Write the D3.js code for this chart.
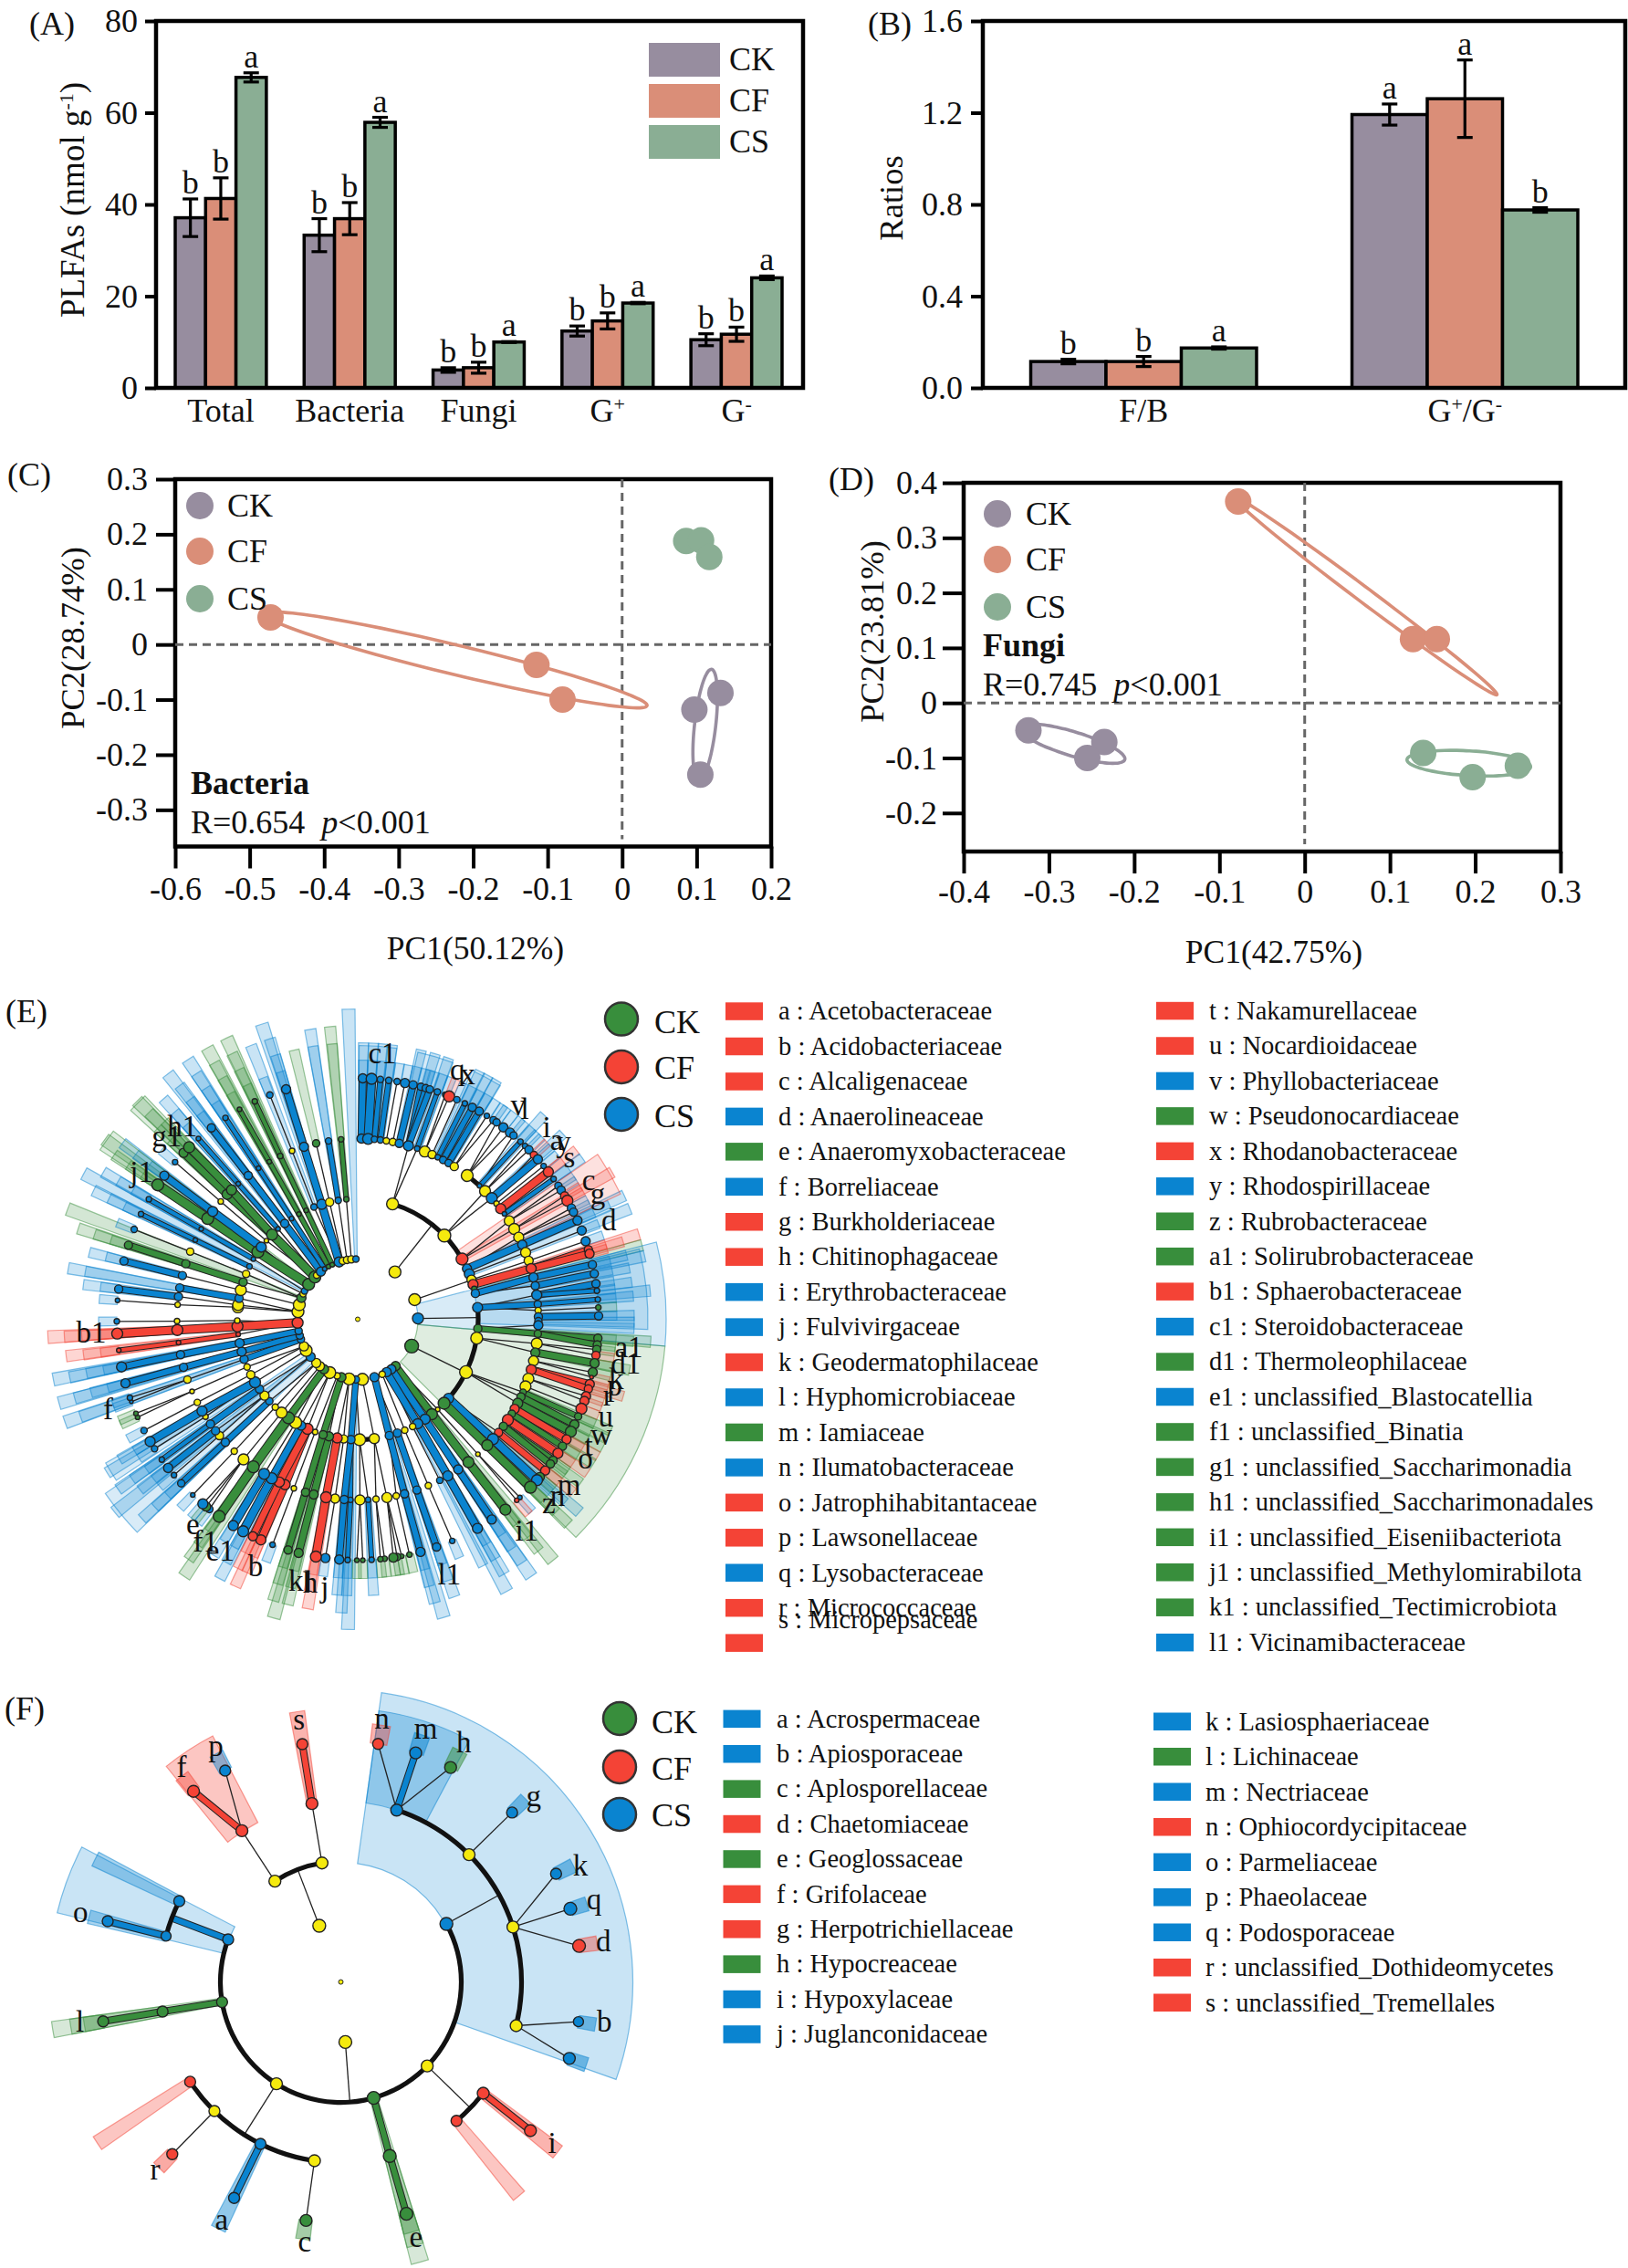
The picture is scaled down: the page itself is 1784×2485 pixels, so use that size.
<!DOCTYPE html>
<html>
<head>
<meta charset="utf-8">
<script src="https://cdn.jsdelivr.net/npm/d3@7/dist/d3.min.js"></script>
<style>
body { margin:0; background:#fff; }
text { font-family:"Liberation Serif", serif; fill:#111; white-space:pre; }
</style>
</head>
<body>
<svg id="fig" width="1784" height="2485"></svg>
<script>
// ---- panel A / B values
var groups = ["CK","CF","CS"];
var plfaCats = ["Total","Bacteria","Fungi","G+","G-"];
var plfaCK = [37.1,33.3,3.9,12.4,10.5];
var plfaCF = [41.3,36.9,4.4,14.6,11.7];
var plfaCS = [67.7,57.9,10.0,18.5,24.0];
var plfaErrCK = [4.1,3.6,0.5,1.1,1.3];
var plfaErrCF = [4.5,3.5,1.2,1.75,1.55];
var plfaErrCS = [1.0,1.1,0.1,0.15,0.4];
var plfaLetCK = ["b","b","b","b","b"];
var plfaLetCF = ["b","b","b","b","b"];
var plfaLetCS = ["a","a","a","a","a"];
var plfaTicks = [0,20,40,60,80];

var ratioCats = ["F/B","G+/G-"];
var ratioCK = [0.115,1.192];
var ratioCF = [0.115,1.261];
var ratioCS = [0.174,0.776];
var ratioErrCK = [0.01,0.046];
var ratioErrCF = [0.022,0.169];
var ratioErrCS = [0.005,0.01];
var ratioLetCK = ["b","a"];
var ratioLetCF = ["b","a"];
var ratioLetCS = ["a","b"];
var ratioTicks = [0,0.4,0.8,1.2,1.6];

// ---- panel C / D values: [x, y]
var bactCK = [[0.132,-0.088],[0.097,-0.118],[0.105,-0.236]];
var bactCF = [[-0.472,0.049],[-0.115,-0.037],[-0.08,-0.1]];
var bactCS = [[0.086,0.188],[0.106,0.189],[0.117,0.159]];
// long axis end points of the ellipses, and minor/major ratio
var bactEllipses = [["CF",-0.479,0.055,0.0335,-0.111,0.075],["CK",0.12,-0.045,0.103,-0.246,0.19]];
var fungiCK = [[-0.324,-0.05],[-0.235,-0.071],[-0.255,-0.1]];
var fungiCF = [[-0.078,0.366],[0.127,0.116],[0.155,0.116]];
var fungiCS = [[0.139,-0.091],[0.25,-0.114],[0.197,-0.135]];
var fungiEllipses = [["CF",-0.083,0.374,0.2255,0.015,0.045],["CK",-0.334,-0.045,-0.211,-0.103,0.22],["CS",0.12,-0.103,0.265,-0.116,0.2]];
var pcaXTicksC = [-0.6,-0.5,-0.4,-0.3,-0.2,-0.1,0,0.1,0.2];
var pcaYTicksC = [-0.3,-0.2,-0.1,0,0.1,0.2,0.3];
var pcaXTicksD = [-0.4,-0.3,-0.2,-0.1,0,0.1,0.2,0.3];
var pcaYTicksD = [-0.2,-0.1,0,0.1,0.2,0.3,0.4];

// ---- panel E cladogram: [angle in degrees, group, node radius], one list per ring
var eL1 = [[141,"k",5],[146,"s",5],[151.3,"s",5],[156,"y",3.5],[163.9,"s",5],[175.5,"y",6.5],[181.8,"s",4],[188.2,"y",6.5],[195.7,"k",5],[200,"y",3.5],[207.7,"y",6.5],[214,"k",5],[218.9,"y",5],[223.5,"y",5],[231.5,"s",5],[238.9,"y",6.5],[243.3,"y",5],[250.6,"s",4],[254.3,"s",4],[258.8,"s",4],[266.7,"f",6],[277.2,"y",6.5],[284,"y",6.5],[290.8,"k",5],[295,"y",3.5],[298,"s",3.5],[305.4,"k",6.5],[314.7,"k",6.5],[317,"y",3.5],[322.3,"s",5],[326.8,"s",2.5],[331,"k",2.5],[335,"k",2.5],[342,"s",5.5],[345.7,"y",4],[349.8,"y",4],[353.9,"y",4],[358.3,"s",3.5]];
var eL1Stems = [[38.2,"y",6.5],[71,"y",6.5],[89.2,"s",6],[116.4,"k",7.5]];
var eL2 = [[16.8,"y",6.5],[46,"y",7],[60,"f",6.5],[65.1,"s",5],[67.9,"s",5.5],[70.8,"y",5],[73.2,"f",5.5],[75.4,"k",3],[77.6,"s",4.5],[84.4,"s",5.5],[94.4,"k",4.5],[99,"y",6.5],[116,"y",7],[131,"s",5.5],[134.2,"k",6.5],[138.4,"y",2.5],[142,"k",6],[146,"s",5.5],[150.1,"s",5.5],[152.9,"y",3.5],[157,"y",3.5],[160.8,"s",4.5],[164.8,"s",4.5],[172.1,"y",5.5],[179.1,"y",6.5],[183.2,"s",4.5],[186.7,"y",4.5],[189.8,"f",5.5],[193.8,"k",5],[196.7,"k",4.5],[200.7,"y",3],[204.6,"f",6],[208,"s",5],[211,"y",6.5],[215.1,"k",6.5],[219.2,"y",6],[223.2,"y",3.5],[227.2,"s",4],[230.7,"y",5],[234.6,"s",4.5],[238.5,"s",6],[242.6,"y",4.5],[246.7,"y",3.5],[250.6,"s",4.5],[254.4,"s",5],[258.6,"s",5],[262.8,"f",2.5],[266.6,"f",6],[269.4,"y",3],[275.7,"y",6],[276.8,"y",6],[280,"s",4.5],[284,"y",6],[288,"k",4.5],[292.1,"y",4],[296,"s",3],[300,"s",2.5],[304,"k",6.5],[306.8,"s",5.5],[310.7,"y",2.5],[314.7,"k",6],[318.6,"s",2.5],[322.7,"s",4.5],[326.7,"s",2.5],[330.8,"k",2.5],[334.7,"k",2.5],[338.7,"s",3.5],[342.6,"s",5.5],[346.5,"y",4.5],[350.7,"s",3.5],[354.6,"k",3]];
var eL3 = [[1.2,"s",5],[3.3,"s",6],[5.3,"s",3.5],[7.2,"s",3.5],[9.1,"y",3.5],[11.2,"y",4],[13.3,"s",4.5],[16.3,"s",5.5],[19.2,"s",3],[21.8,"y",6],[24.3,"y",4.5],[26.3,"s",3],[28.2,"s",4],[30.2,"s",4],[32.3,"y",4.5],[37.3,"y",6.5],[42.4,"s",2.5],[44.8,"y",6],[47.9,"s",6],[50.2,"y",3],[52.3,"f",5.5],[54.3,"s",2.5],[57,"y",5.5],[60,"y",6],[63,"y",5.5],[65.6,"s",5],[68.3,"y",5.5],[71.1,"y",5],[73.7,"f",5.5],[76.6,"s",5],[79.3,"s",4.5],[82.3,"s",5.5],[85.2,"s",4],[87.2,"y",3.5],[89.2,"s",4.5],[90.6,"s",4],[91.9,"s",5],[94.6,"k",4],[97.7,"y",6],[100.6,"k",5],[103.3,"y",5.5],[106.2,"f",5.5],[109.2,"y",6],[111.8,"y",6],[113.8,"k",3.5],[115.4,"k",4.5],[117.7,"k",5.5],[119.7,"f",5],[121.5,"k",4],[123.8,"f",6],[126.3,"k",4.5],[128.8,"f",4.5],[131.5,"s",6],[134.2,"k",6],[138.3,"y",2.5],[142.2,"k",6],[146.2,"s",5],[150.1,"s",5.5],[153,"s",3.5],[157,"y",3.5],[160.9,"s",4.5],[165,"s",4.5],[167.7,"y",3.5],[170.7,"y",5.5],[174.2,"y",3.5],[176.7,"s",3],[179.3,"y",5.5],[182.3,"s",3],[184.3,"s",4.5],[187.2,"y",5],[190.1,"f",6],[194.1,"k",5],[196.8,"k",4.5],[200.7,"y",3],[203.7,"f",5.5],[205.7,"f",5.5],[208.4,"s",6],[211.2,"s",6],[215.3,"k",6.5],[219.2,"y",6],[223.1,"y",3.5],[227.1,"s",4.5],[229.9,"y",4.5],[231.9,"s",4.5],[234.6,"s",4.5],[237.4,"y",3],[239.5,"s",5.5],[242.6,"y",3.5],[246.5,"y",2.5],[250.5,"y",4],[254.6,"s",4.5],[258.7,"s",4.5],[262.6,"f",2.5],[266.6,"f",6],[269.4,"y",3],[274.6,"y",3],[277.2,"s",4.5],[280,"s",4.5],[284,"s",4.5],[287.9,"k",4.5],[292,"y",4],[296,"s",2.5],[300,"s",2.5],[303.9,"k",6.5],[306.6,"s",5.5],[310.7,"y",3],[313.7,"k",5.5],[315.7,"k",5.5],[318.6,"s",2.5],[322.7,"s",4.5],[326.7,"s",2.5],[330.7,"k",2.5],[334.6,"k",3],[338.7,"y",3],[342.7,"s",5],[346.7,"k",4],[350.7,"s",3.5],[354.7,"k",3]];
var eL4 = [[1.2,"s",5],[3.3,"s",6],[5.4,"s",3.5],[7.4,"s",3.5],[9.4,"s",3.5],[11.3,"s",5],[13.3,"s",4.5],[15.2,"s",4],[16.4,"s",4],[17.4,"s",4],[19.3,"s",3.5],[21.3,"s",3],[22.3,"f",6],[24.3,"s",3.5],[26.4,"s",3],[28.4,"s",4.5],[30.3,"s",4.5],[32.4,"s",3],[34.3,"s",4],[35.2,"s",4],[37.2,"s",5],[39.2,"s",5],[40.3,"s",4],[42.5,"s",3],[44,"s",3],[45.3,"s",4.5],[47,"f",4],[48.4,"s",5],[50.5,"s",3],[52.3,"f",5.5],[54.4,"s",3],[56.4,"s",4],[57.6,"s",4.5],[59.2,"f",4.5],[60.5,"f",6],[62.5,"s",4.5],[63.6,"s",4.5],[65.8,"s",5],[68.4,"s",5],[71.1,"s",5],[73.2,"f",4.5],[74.2,"f",5],[76.9,"s",4.5],[79.1,"s",4.5],[81.5,"s",4.5],[83.2,"s",3],[85.3,"s",3],[87.2,"k",3],[89.2,"s",4.5],[94.5,"k",4.5],[96.1,"k",4.5],[97.2,"k",4.5],[98.6,"f",4.5],[100.5,"k",5],[102.7,"k",5],[103.9,"f",2],[105.6,"f",5],[106.8,"f",4.5],[108.6,"f",5],[109.8,"f",5],[111.8,"f",6],[113.8,"k",4],[115.9,"k",5],[117.8,"k",6],[119.9,"f",5],[121.8,"k",4.5],[123.8,"f",5.5],[125.8,"k",4.5],[126.9,"k",4.5],[128.9,"f",5],[130.9,"k",5],[131.9,"s",6],[134.2,"k",6.5],[137.7,"s",2.5],[138.7,"f",2.5],[142.2,"k",6],[146.2,"s",5],[150.2,"s",5.5],[156.9,"s",3],[160.9,"s",4.5],[164.9,"s",5],[167.6,"k",3],[169.5,"k",2.5],[170.6,"k",4],[171.5,"k",5],[173.6,"k",3],[174.6,"k",3],[176.7,"s",3],[178.8,"k",2.5],[180.2,"k",2.5],[182.4,"s",3],[184.4,"s",5],[187.7,"s",5],[190,"f",6],[194.2,"k",5],[196.8,"k",4.5],[200.7,"s",3],[203.7,"f",5.5],[205.8,"f",5],[208.4,"s",6],[211.1,"s",5.5],[215.1,"k",6.5],[218,"s",4],[219,"k",5],[220,"s",5.5],[223.2,"s",2.5],[227.1,"s",4],[229.7,"s",3],[231.9,"s",5],[234.4,"s",3],[237.5,"s",3.5],[239.5,"s",5.5],[242.5,"s",3.5],[246,"k",2.5],[247,"k",2.5],[250,"s",2],[251,"s",3],[254.6,"s",5],[258.6,"s",5.5],[262.6,"f",2.5],[266.6,"f",6],[269.5,"s",3],[274.5,"s",2.5],[277.2,"s",4.5],[284,"s",4.5],[287.9,"k",4.5],[291.9,"s",3.5],[295.9,"s",3],[299.9,"s",3],[303.9,"k",6.5],[306.6,"s",5],[310.7,"s",3],[313.7,"k",5],[315.6,"k",6],[318.6,"s",2.5],[322.6,"s",4.5],[326.7,"s",3],[330.6,"k",2.5],[334.7,"k",3],[338.6,"s",3.5],[342.7,"s",5]];
var eArcs = [[2,16.8,60],[2,84.4,134.2],[3,37.3,42.4],[2,172.1,179.1]];
// wide highlighted clades: [from, to, inner radius, outer radius, group]
var eSectors = [[75.5,95,66,338,"s"],[95,135,66,338,"k"],[76,92,131,318,"s"],[55.5,64.5,131,319,"f"],[0.3,8.2,198,300,"s"],[12.7,20.4,198,300,"s"],[24.7,31.4,198,300,"s"],[226,235.4,66,336,"s"],[236.3,240.3,132,318,"s"],[303.3,307.6,66,338,"k"],[312.6,316.4,66,338,"k"]];
var eLabels = [["c1",5.3,292],["q",21.8,294],["x",24.3,293],["v",37,292],["l",38.6,293.5],["i",44.7,294.5],["a",48.1,293],["y",49.4,297],["s",52.7,291.5],["c",59.1,295],["g",62.5,296.5],["d",68.6,295.5],["a1",96.1,298.7],["d1",99.6,298],["k",103.3,291],["p",104.6,291],["r",107.1,287],["u",111.5,292],["w",115.6,296],["t",118.9,289],["o",121.6,293],["m",128.3,295],["n",131.6,293],["z",134,291],["i1",141.4,297],["l1",160.3,298],["k",193.3,295],["h",190.2,294],["l",190.6,294],["j",187,297],["b",202.4,294],["e1",210.6,296],["f1",214.3,296],["e",218.7,289],["f",250,291],["b1",266.9,292.4],["j1",304.1,286],["g1",313.6,289],["h1",317.6,285]];

var eLegendA = [["a : Acetobacteraceae","f"],["b : Acidobacteriaceae","f"],["c : Alcaligenaceae","f"],["d : Anaerolineaceae","s"],["e : Anaeromyxobacteraceae","k"],["f : Borreliaceae","s"],["g : Burkholderiaceae","f"],["h : Chitinophagaceae","f"],["i : Erythrobacteraceae","s"],["j : Fulvivirgaceae","s"],["k : Geodermatophilaceae","f"],["l : Hyphomicrobiaceae","s"],["m : Iamiaceae","k"],["n : Ilumatobacteraceae","s"],["o : Jatrophihabitantaceae","f"],["p : Lawsonellaceae","f"],["q : Lysobacteraceae","s"],["r : Micrococcaceae","f"],["s : Micropepsaceae","f"]];
var eLegendB = [["t : Nakamurellaceae","f"],["u : Nocardioidaceae","f"],["v : Phyllobacteriaceae","s"],["w : Pseudonocardiaceae","k"],["x : Rhodanobacteraceae","f"],["y : Rhodospirillaceae","s"],["z : Rubrobacteraceae","k"],["a1 : Solirubrobacteraceae","k"],["b1 : Sphaerobacteraceae","f"],["c1 : Steroidobacteraceae","s"],["d1 : Thermoleophilaceae","k"],["e1 : unclassified_Blastocatellia","s"],["f1 : unclassified_Binatia","k"],["g1 : unclassified_Saccharimonadia","k"],["h1 : unclassified_Saccharimonadales","k"],["i1 : unclassified_Eiseniibacteriota","k"],["j1 : unclassified_Methylomirabilota","k"],["k1 : unclassified_Tectimicrobiota","k"],["l1 : Vicinamibacteraceae","s"]];

// ---- panel F cladogram
var fL1 = [[175.7,"y",7],[339,"y",7]];
var fL2 = [[61.2,"s",7],[134.2,"y",6.5],[164.2,"k",7],[212.3,"y",6.5],[260.4,"k",6],[290.7,"s",6],[326.8,"y",6.5],[351,"y",6.5]];
var fL3 = [[18,"s",6.5],[45.2,"y",6.5],[72.3,"y",6.5],[104,"y",6.5],[128,"f",6.5],[140.2,"f",6],[164.3,"k",7],[188.4,"y",6.5],[206.4,"s",6],[224.4,"y",6],[236.5,"f",6],[260.6,"k",6],[284.7,"s",5.5],[296.6,"s",6],[326.8,"f",6.5],[350.8,"f",6.5]];
var fL4 = [[8.9,"f",6],[18.1,"s",6.5],[27.1,"k",6.5],[45.3,"s",6],[63.3,"s",6],[72.3,"s",7],[81.4,"f",7],[99.5,"s",5.5],[108.5,"s",6.5],[128.1,"f",6.5],[164.2,"k",7],[188.3,"k",6.5],[206.3,"s",6],[224.4,"f",6],[260.6,"k",6],[284.6,"s",6],[322.3,"f",6.5],[331.3,"s",6],[350.8,"f",6]];
// tree edges: [ring, angle, ring, angle, group or none for a thin line]
var fEdges = [[1,339,2,339],[1,175.7,2,175.7],[2,61.2,3,61.2],[2,134.2,3,134.2],[2,212.3,3,212.3],[2,326.8,3,326.8],[2,351,3,350.8],[3,326.8,4,331.3],[3,18,4,8.9],[3,18,4,27.1],[3,45.2,4,45.3],[3,72.3,4,63.3],[3,72.3,4,72.3],[3,72.3,4,81.4],[3,104,4,99.5],[3,104,4,108.5],[3,188.4,4,188.3],[3,224.4,4,224.4],[3,350.8,4,350.8,"f"],[3,326.8,4,322.3,"f"],[3,18,4,18.1,"s"],[3,128,4,128.1,"f"],[2,164.2,3,164.3,"k"],[3,164.3,4,164.2,"k"],[2,260.4,3,260.6,"k"],[3,260.6,4,260.6,"k"],[2,290.7,3,290.7,"s"],[3,284.7,4,284.6,"s"],[3,206.4,4,206.3,"s"]];
var fArcs = [[2,61.2,290.7],[2,326.8,351],[3,18,104],[3,128,140.2],[3,188.4,236.5],[3,284.7,296.6]];
var fSectors = [[8,109.5,131,320,"s",0.22],[8,28,198,300,"s",0.3],[321,332.5,197,304,"f",0.3],[283.7,297.5,131,320,"s",0.22],[295,298.2,198,301,"s",0.35],[349.2,352.4,198,300,"f",0.4],[7,11,264,285,"f",0.4],[16.5,20,264,285,"s",0.5],[25.5,29,264,285,"k",0.5],[43.8,46.8,264,285,"s",0.5],[61.8,65,264,285,"s",0.5],[70.8,74,264,283,"s",0.5],[79.8,83,264,284,"f",0.4],[98,101,264,283,"s",0.5],[107,110.2,264,284,"s",0.5],[126.5,129.7,198,302,"f",0.4],[138.7,141.7,198,305,"f",0.3],[162.5,166,132,319,"k",0.2],[162.5,166,198,300,"k",0.25],[162.5,166,264,285,"k",0.35],[186.8,190,264,285,"k",0.45],[204.8,208,198,302,"s",0.45],[222.8,226,264,285,"f",0.45],[235,238,198,320,"f",0.3],[259,262.2,132,320,"k",0.2],[259,262.2,198,300,"k",0.25],[259,262.2,264,285,"k",0.3],[283,286,198,285,"s",0.35],[320.7,324,264,285,"f",0.4],[329.8,333,264,285,"s",0.45]];
var fLabels = [["n",8.9,291],["m",18.6,292],["h",27.2,294.6],["g",46.2,292.8],["k",64.2,291.6],["q",72.1,291.6],["d",81.3,291],["b",98.7,292],["i",127.4,291.4],["e",163.6,292],["c",187.9,288],["a",206.6,292],["r",224.6,290],["l",261.1,289.5],["o",284.8,295],["f",323.3,292],["p",332,292],["s",350.9,290]];
var fLegendA = [["a : Acrospermaceae","s"],["b : Apiosporaceae","s"],["c : Aplosporellaceae","k"],["d : Chaetomiaceae","f"],["e : Geoglossaceae","k"],["f : Grifolaceae","f"],["g : Herpotrichiellaceae","f"],["h : Hypocreaceae","k"],["i : Hypoxylaceae","s"],["j : Juglanconidaceae","s"]];
var fLegendB = [["k : Lasiosphaeriaceae","s"],["l : Lichinaceae","k"],["m : Nectriaceae","s"],["n : Ophiocordycipitaceae","f"],["o : Parmeliaceae","s"],["p : Phaeolaceae","s"],["q : Podosporaceae","s"],["r : unclassified_Dothideomycetes","f"],["s : unclassified_Tremellales","f"]];

// colours
var muted = {CK:"#978d9f", CF:"#da8e78", CS:"#8aae94"};
var clade = {k:"#388e3c", f:"#f44336", s:"#0a84d0", y:"#f5ea0e"};
var FS = 36;

var svg = d3.select("#fig");

function label(parent, x, y, str, size, anchor)
{
    return parent.append("text").attr("x", x).attr("y", y)
        .attr("text-anchor", anchor || "start")
        .style("font-size", (size || FS) + "px")
        .text(str);
}

// text with superscript parts, parts = [[string, isSup], ...]
function richText(sel, parts)
{
    sel.text(null);
    var wasSup = false;
    parts.forEach(function(p)
    {
        var t = sel.append("tspan").text(p[0]);
        if (p[1]) t.attr("dy", -12).style("font-size", "22px");
        else if (wasSup) t.attr("dy", 12);
        wasSup = !!p[1];
    });
}

var tickParts = {
    "G+":[["G"],["+",1]],
    "G-":[["G"],["-",1]],
    "G+/G-":[["G"],["+",1],["/G"],["-",1]]
};

function styleAxis(g, fontSize)
{
    g.select(".domain").remove();
    g.selectAll(".tick line").attr("stroke", "#000").attr("stroke-width", 4);
    g.selectAll(".tick text").style("font-size", fontSize + "px").style("font-family", '"Liberation Serif", serif').attr("fill", "#111");
}

function frame(box)
{
    svg.append("rect").attr("x", box.left).attr("y", box.top)
        .attr("width", box.right - box.left).attr("height", box.bottom - box.top)
        .attr("fill", "none").attr("stroke", "#000").attr("stroke-width", 4.5);
}

// ---- grouped bars
function drawBars(box, cats, series, errs, letters, ticks, yMax, tickLen, pad, innerPad, fmt)
{
    var x = d3.scaleBand().domain(cats).range([box.barStart, box.barEnd]).paddingInner(innerPad).paddingOuter(0);
    var x1 = d3.scaleBand().domain(groups).range([0, x.bandwidth()]);
    var y = d3.scaleLinear().domain([0, yMax]).range([box.bottom, box.top]);

    var yAxis = svg.append("g").attr("transform", "translate(" + box.left + ",0)")
        .call(d3.axisLeft(y).tickValues(ticks).tickSize(tickLen).tickPadding(pad).tickFormat(fmt));
    styleAxis(yAxis, FS);

    var xAxis = svg.append("g").attr("transform", "translate(0," + box.bottom + ")")
        .call(d3.axisBottom(x).tickSize(0));
    styleAxis(xAxis, FS);
    xAxis.selectAll(".tick text").attr("y", 37).attr("dy", 0).each(function(d)
    {
        if (tickParts[d]) richText(d3.select(this), tickParts[d]);
    });

    groups.forEach(function(grp, gi)
    {
        var rows = cats.map(function(c, i) { return {c:c, v:series[gi][i], e:errs[gi][i], l:letters[gi][i]}; });
        var g = svg.append("g").attr("class", "bars-" + grp);
        g.selectAll("rect").data(rows).enter().append("rect")
            .attr("x", function(d) { return x(d.c) + x1(grp); })
            .attr("y", function(d) { return y(d.v); })
            .attr("width", x1.bandwidth())
            .attr("height", function(d) { return box.bottom - y(d.v); })
            .attr("fill", muted[grp]).attr("stroke", "#000").attr("stroke-width", 3.5);
    });
    // error bars on top of all the bars
    groups.forEach(function(grp, gi)
    {
        var rows = cats.map(function(c, i) { return {c:c, v:series[gi][i], e:errs[gi][i], l:letters[gi][i]}; });
        var g = svg.append("g");
        var cx = function(d) { return x(d.c) + x1(grp) + x1.bandwidth() / 2; };
        g.selectAll(".stem").data(rows).enter().append("line")
            .attr("x1", cx).attr("x2", cx)
            .attr("y1", function(d) { return y(d.v + d.e); })
            .attr("y2", function(d) { return y(d.v - d.e); })
            .attr("stroke", "#000").attr("stroke-width", 3.2);
        [1,-1].forEach(function(sign)
        {
            g.selectAll(".cap" + sign).data(rows).enter().append("line")
                .attr("x1", function(d) { return cx(d) - 8.5; })
                .attr("x2", function(d) { return cx(d) + 8.5; })
                .attr("y1", function(d) { return y(d.v + sign * d.e); })
                .attr("y2", function(d) { return y(d.v + sign * d.e); })
                .attr("stroke", "#000").attr("stroke-width", 3.2);
        });
        g.selectAll("text").data(rows).enter().append("text")
            .attr("x", cx)
            .attr("y", function(d) { return y(d.v + d.e) - 6; })
            .attr("text-anchor", "middle").style("font-size", FS + "px")
            .text(function(d) { return d.l; });
    });
    frame(box);
}

var boxA = {left:171, right:880, top:23, bottom:425, barStart:192, barEnd:857};
drawBars(boxA, plfaCats, [plfaCK,plfaCF,plfaCS], [plfaErrCK,plfaErrCF,plfaErrCS], [plfaLetCK,plfaLetCF,plfaLetCS],
    plfaTicks, 80, 12, 8, 0.293, function(d) { return d; });
var boxB = {left:1077, right:1781, top:23, bottom:425, barStart:1129.5, barEnd:1729};
drawBars(boxB, ratioCats, [ratioCK,ratioCF,ratioCS], [ratioErrCK,ratioErrCF,ratioErrCS], [ratioLetCK,ratioLetCF,ratioLetCS],
    ratioTicks, 1.6, 13, 9, 0.297, function(d) { return d.toFixed(1); });

label(svg, 32, 38, "(A)");
label(svg, 951, 38, "(B)");

var plfaTitle = label(svg, 0, 0, "", 37, "middle").attr("transform", "translate(92,219) rotate(-90)");
richText(plfaTitle, [["PLFAs (nmol g"],["-1",1],[")"]]);
label(svg, 0, 0, "Ratios", 36.5, "middle").attr("transform", "translate(989,217) rotate(-90)");

// swatches in panel A
var swatchY = d3.scalePoint().domain(groups).range([47, 137]);
svg.selectAll(".swatch").data(groups).enter().append("rect")
    .attr("x", 711).attr("y", function(d) { return swatchY(d); })
    .attr("width", 78).attr("height", 37)
    .attr("fill", function(d) { return muted[d]; });
groups.forEach(function(g)
{
    label(svg, 799, swatchY(g) + 30, g);
});

// ---- PCoA panels
function drawPca(box, xDomain, yDomain, xTicks, yTicks, pts, ellipses, opts)
{
    var x = d3.scaleLinear().domain(xDomain).range([box.left, box.right]);
    var y = d3.scaleLinear().domain(yDomain).range([box.bottom, box.top]);
    var fmt = function(d) { return +d.toFixed(1); };

    var ya = svg.append("g").attr("transform", "translate(" + box.left + ",0)")
        .call(d3.axisLeft(y).tickValues(yTicks).tickSize(opts.yTick).tickPadding(opts.yPad).tickFormat(fmt));
    styleAxis(ya, FS);
    var xa = svg.append("g").attr("transform", "translate(0," + box.bottom + ")")
        .call(d3.axisBottom(x).tickValues(xTicks).tickSize(24).tickFormat(fmt));
    styleAxis(xa, FS);
    xa.selectAll(".tick text").attr("y", opts.xText).attr("dy", 0);
    frame(box);

    svg.append("line").attr("x1", box.left).attr("x2", box.right).attr("y1", y(0)).attr("y2", y(0))
        .attr("stroke", "#666").attr("stroke-width", 3).attr("stroke-dasharray", "9 6");
    svg.append("line").attr("x1", x(0)).attr("x2", x(0)).attr("y1", box.top).attr("y2", box.bottom - 8)
        .attr("stroke", "#666").attr("stroke-width", 3).attr("stroke-dasharray", "9 6");

    var ellipseLine = d3.line().curve(d3.curveCardinalClosed);
    ellipses.forEach(function(e)
    {
        var x1 = x(e[1]), y1 = y(e[2]), x2 = x(e[3]), y2 = y(e[4]);
        var cx = (x1 + x2) / 2, cy = (y1 + y2) / 2;
        var ux = (x2 - x1) / 2, uy = (y2 - y1) / 2;
        var path = d3.range(0, 360, 6).map(function(t)
        {
            var a = Math.cos(t * Math.PI / 180), b = Math.sin(t * Math.PI / 180) * e[5];
            return [cx + a * ux - b * uy, cy + a * uy + b * ux];
        });
        svg.append("path").attr("d", ellipseLine(path)).attr("fill", "none")
            .attr("stroke", muted[e[0]]).attr("stroke-width", 3.6);
    });

    groups.forEach(function(g, i)
    {
        svg.append("g").selectAll("circle").data(pts[i]).enter().append("circle")
            .attr("cx", function(d) { return x(d[0]); })
            .attr("cy", function(d) { return y(d[1]); })
            .attr("r", 14.5).attr("fill", muted[g]);
    });
}

drawPca({left:192, right:845, top:525, bottom:927.5}, [-0.6,0.2], [-0.3665,0.3], pcaXTicksC, pcaYTicksC,
    [bactCK,bactCF,bactCS], bactEllipses, {yTick:21, yPad:9, xText:58});
drawPca({left:1056, right:1710, top:529, bottom:933}, [-0.4,0.3], [-0.27,0.4], pcaXTicksD, pcaYTicksD,
    [fungiCK,fungiCF,fungiCS], fungiEllipses, {yTick:23, yPad:6, xText:56});

label(svg, 8, 532, "(C)");
label(svg, 908, 537, "(D)");
label(svg, 0, 0, "PC2(28.74%)", 36.5, "middle").attr("transform", "translate(92,699) rotate(-90)");
label(svg, 521, 1051, "PC1(50.12%)", 35.5, "middle");
label(svg, 0, 0, "PC2(23.81%)", 36.5, "middle").attr("transform", "translate(968,692) rotate(-90)");
label(svg, 1396, 1055, "PC1(42.75%)", 35.5, "middle");

function pcaLegend(x, ys, lx)
{
    groups.forEach(function(g, i)
    {
        svg.append("circle").attr("cx", x).attr("cy", ys[i]).attr("r", 15).attr("fill", muted[g]);
        label(svg, lx, ys[i] + 12, g);
    });
}
pcaLegend(219, [554,604,656], 249);
pcaLegend(1093, [563,613,665], 1124);

function statsLine(x, y, head, r)
{
    label(svg, x, y, head).style("font-weight", "bold");
    var t = label(svg, x, y + 43, r + "  ");
    t.append("tspan").style("font-style", "italic").text("p");
    t.append("tspan").text("<0.001");
}
statsLine(209, 870, "Bacteria", "R=0.654");
statsLine(1077, 719, "Fungi", "R=0.745");

// ---- cladograms
var ring = d3.scaleLinear().domain([0,4]).range([0,264]);
var deg = Math.PI / 180;

function sector(g, s, alpha)
{
    g.append("path")
        .attr("d", d3.arc()({innerRadius:s[2], outerRadius:s[3], startAngle:s[0]*deg, endAngle:s[1]*deg}))
        .attr("fill", clade[s[4]]).attr("fill-opacity", alpha)
        .attr("stroke", clade[s[4]]).attr("stroke-opacity", 0.5).attr("stroke-width", 1.2);
}

function spoke(g, l1, a1, l2, a2, grp, w)
{
    var p = d3.pointRadial(a1 * deg, ring(l1)), q = d3.pointRadial(a2 * deg, ring(l2));
    if (grp)
    {
        g.append("line").attr("x1", p[0]).attr("y1", p[1]).attr("x2", q[0]).attr("y2", q[1])
            .attr("stroke", "#222").attr("stroke-width", w + 2);
        g.append("line").attr("x1", p[0]).attr("y1", p[1]).attr("x2", q[0]).attr("y2", q[1])
            .attr("stroke", clade[grp]).attr("stroke-width", w);
    }
    else
    {
        g.append("line").attr("x1", p[0]).attr("y1", p[1]).attr("x2", q[0]).attr("y2", q[1])
            .attr("stroke", "#222").attr("stroke-width", 1.3);
    }
}

function drawArcs(g, arcs)
{
    arcs.forEach(function(a)
    {
        var r = ring(a[0]);
        g.append("path")
            .attr("d", d3.arc()({innerRadius:r-2.6, outerRadius:r+2.6, startAngle:a[1]*deg, endAngle:a[2]*deg}))
            .attr("fill", "#111");
    });
}

function drawNodes(g, rows, level)
{
    g.append("g").selectAll("circle").data(rows).enter().append("circle")
        .attr("cx", function(d) { return d3.pointRadial(d[0]*deg, ring(level))[0]; })
        .attr("cy", function(d) { return d3.pointRadial(d[0]*deg, ring(level))[1]; })
        .attr("r", function(d) { return d[2]; })
        .attr("fill", function(d) { return clade[d[1]]; })
        .attr("stroke", "#222").attr("stroke-width", 1.4);
}

function drawLabels(g, rows, size)
{
    g.selectAll(".leaf").data(rows).enter().append("text")
        .attr("x", function(d) { return d3.pointRadial(d[1]*deg, d[2])[0]; })
        .attr("y", function(d) { return d3.pointRadial(d[1]*deg, d[2])[1] + 10; })
        .attr("text-anchor", "middle").style("font-size", size + "px")
        .text(function(d) { return d[0]; });
}

function angDiff(a, b)
{
    var d = Math.abs(a - b) % 360;
    return d > 180 ? 360 - d : d;
}

// panel E, every node goes to the closest node one ring further in
var cE = svg.append("g").attr("transform", "translate(392,1445.5)");
var eOuter = [0, 340, 322, 303, 284];
var eHalf = [0, 1.2, 1.1, 1.05, 1.0];
[[1,eL1],[2,eL2],[3,eL3],[4,eL4]].forEach(function(lv)
{
    lv[1].forEach(function(n)
    {
        if (n[1] == "y") return;
        sector(cE, [n[0]-eHalf[lv[0]], n[0]+eHalf[lv[0]], ring(lv[0]), eOuter[lv[0]], n[1]], 0.22);
    });
});
eSectors.forEach(function(s) { sector(cE, s, 0.16); });

function linkRings(g, rows, level, parents, maxDiff, thickOnly)
{
    rows.forEach(function(n)
    {
        var best = d3.least(parents, function(p) { return angDiff(p[0], n[0]); });
        var diff = angDiff(best[0], n[0]);
        if (diff > maxDiff) return;
        var thick = best[1] == n[1] && n[1] != "y" && diff < 1.6;
        if (thick != thickOnly) return;
        spoke(g, level - 1, best[0], level, n[0], thick ? n[1] : null, Math.max(4, Math.min(best[2], n[2]) * 1.35));
    });
}

[false, true].forEach(function(thickOnly)
{
    linkRings(cE, eL4, 4, eL3, 8, thickOnly);
    linkRings(cE, eL3, 3, eL2, 3, thickOnly);
    linkRings(cE, eL2, 2, eL1, 6, thickOnly);
});
eL1Stems.forEach(function(n) { spoke(cE, 1, n[0], 2, n[0]); });
drawArcs(cE, eArcs);
drawNodes(cE, eL4, 4);
drawNodes(cE, eL3, 3);
drawNodes(cE, eL2, 2);
drawNodes(cE, eL1, 1);
drawNodes(cE, eL1Stems, 1);
cE.append("circle").attr("r", 2.5).attr("fill", clade.y).attr("stroke", "#222");
drawLabels(cE, eLabels, 33);

// panel F, edges are listed
var cF = svg.append("g").attr("transform", "translate(373.5,2171.6)");
fSectors.forEach(function(s) { sector(cF, s, s[5]); });
fEdges.forEach(function(e) { spoke(cF, e[0], e[1], e[2], e[3], e[4], 6); });
drawArcs(cF, fArcs);
drawNodes(cF, fL4, 4);
drawNodes(cF, fL3, 3);
drawNodes(cF, fL2, 2);
drawNodes(cF, fL1, 1);
cF.append("circle").attr("r", 2.5).attr("fill", clade.y).attr("stroke", "#222");
drawLabels(cF, fLabels, 33);

label(svg, 6, 1120, "(E)");
label(svg, 5, 1884, "(F)");

function cladeLegend(cx, cy, lx, by)
{
    ["k","f","s"].forEach(function(k, i)
    {
        svg.append("circle").attr("cx", cx).attr("cy", cy[i]).attr("r", 18)
            .attr("fill", clade[k]).attr("stroke", "#333").attr("stroke-width", 2.5);
        label(svg, lx, by[i], groups[i]);
    });
}
cladeLegend(681, [1116.6,1169,1221], 717, [1132,1182,1235]);
cladeLegend(679, [1883,1936,1988], 714, [1899,1950,2001]);

function familyLegend(rows, swatchX, textX, y0, step, shiftText)
{
    var y = d3.scaleLinear().domain([0,1]).range([y0, y0 + step]);
    rows.forEach(function(r, i)
    {
        svg.append("rect").attr("x", swatchX).attr("y", y(i) - 10)
            .attr("width", 41).attr("height", 19.5).attr("fill", clade[r[1]]);
        var dy = shiftText && shiftText[i] !== undefined ? shiftText[i] : 0;
        label(svg, textX, y(i) + 9 + dy, r[0], 28.5);
    });
}
// the last two names of the first list sit on top of each other in the figure
familyLegend(eLegendA, 795, 853, 1108.3, 38.45, {18:-25, 17:0});
familyLegend(eLegendB, 1267, 1325, 1107.8, 38.45);
familyLegend(fLegendA, 792.5, 851, 1883.6, 38.4);
familyLegend(fLegendB, 1264, 1321, 1886.5, 38.5);
</script>
</body>
</html>
